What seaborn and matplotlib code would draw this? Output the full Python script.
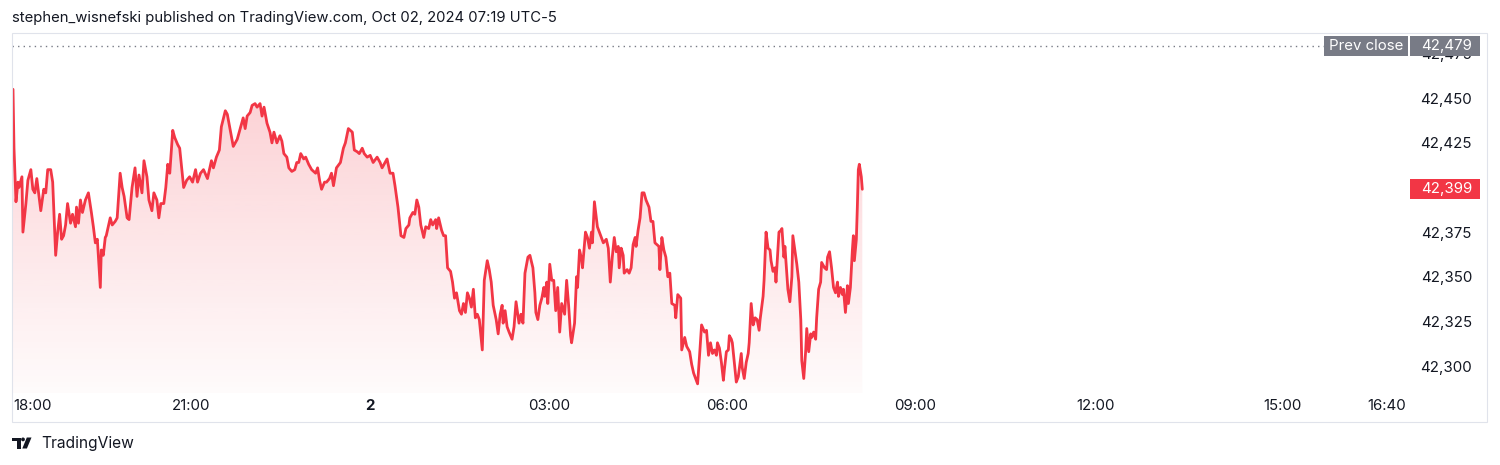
import numpy as np
import matplotlib
matplotlib.use("Agg")
import matplotlib.pyplot as plt
import matplotlib.transforms as mtransforms
from matplotlib.patches import Rectangle, Polygon, Circle
from matplotlib.colors import to_rgb
import seaborn as sns

# ---------------- data ----------------
# minutes after 18:00 (Oct 1) and DJIA futures price
minutes = [
    0, 1, 3, 5, 6, 9, 10, 13, 15, 18,
    20, 22, 24, 28, 31, 33, 35, 38, 40, 43,
    45, 47, 49, 51, 53, 55, 58, 60, 63, 64,
    66, 68, 70, 73, 76, 79, 81, 83, 85, 88,
    89, 91, 93, 94, 96, 98, 100, 103, 105, 108,
    110, 112, 115, 117, 120, 123, 125, 127, 130, 132,
    135, 137, 140, 142, 145, 147, 149, 152, 154, 156,
    158, 161, 163, 166, 168, 172, 175, 178, 181, 184,
    186, 189, 192, 196, 200, 202, 205, 208, 210, 214,
    216, 219, 222, 226, 229, 232, 234, 236, 239, 241,
    244, 246, 249, 251, 253, 256, 259, 261, 263, 266,
    269, 271, 273, 276, 278, 281, 284, 286, 288, 290,
    293, 295, 298, 301, 305, 307, 309, 311, 314, 316,
    319, 321, 323, 326, 330, 333, 335, 338, 342, 344,
    347, 349, 352, 354, 357, 360, 363, 367, 370, 372,
    375, 377, 380, 383, 385, 388, 391, 394, 396, 399,
    400, 403, 405, 407, 409, 411, 414, 416, 419, 421,
    423, 426, 427, 429, 432, 434, 436, 438, 441, 443,
    445, 447, 450, 452, 454, 456, 458, 460, 462, 464,
    466, 468, 470, 473, 475, 478, 480, 482, 484, 487,
    489, 491, 493, 494, 496, 498, 500, 503, 505, 507,
    510, 512, 514, 516, 519, 521, 524, 526, 527, 529,
    531, 533, 535, 536, 538, 539, 541, 543, 545, 547,
    549, 551, 553, 556, 558, 560, 562, 563, 566, 568,
    569, 571, 573, 574, 577, 579, 581, 583, 584, 586,
    589, 591, 593, 595, 598, 600, 602, 604, 606, 608,
    610, 611, 613, 615, 616, 619, 621, 623, 625, 627,
    628, 630, 632, 634, 636, 638, 641, 643, 645, 647,
    649, 651, 652, 654, 656, 658, 660, 662, 664, 667,
    668, 670, 673, 674, 677, 679, 682, 684, 686, 688,
    690, 692, 694, 697, 699, 701, 703, 705, 707, 709,
    710, 712, 714, 716, 717, 719, 721, 722, 724, 725,
    727, 729, 731, 734, 735, 737, 739, 741, 742, 744,
    746, 748, 750, 752, 753, 756, 757, 759, 761, 763,
    764, 766, 768, 769, 771, 772, 774, 775, 777, 778,
    779, 781, 783, 785, 786, 788, 790, 792, 794, 795,
    797, 799, 800, 802, 804, 805, 807, 809, 810, 812,
    814, 815, 818, 820, 821, 823, 825, 827, 829, 831,
    832, 834, 836, 837, 839, 841, 842, 844, 846, 847,
    848, 850, 851, 852, 853, 855, 856,
]
prices = [
    42455, 42422, 42392, 42403, 42400, 42406, 42375, 42391, 42404, 42410,
    42399, 42397, 42405, 42387, 42399, 42397, 42410, 42410, 42403, 42362,
    42375, 42385, 42371, 42373, 42379, 42391, 42380, 42385, 42378, 42389,
    42380, 42393, 42386, 42393, 42397, 42386, 42378, 42369, 42371, 42344,
    42365, 42362, 42372, 42373, 42378, 42383, 42379, 42381, 42383, 42408,
    42400, 42395, 42383, 42382, 42400, 42411, 42395, 42407, 42397, 42415,
    42406, 42393, 42387, 42397, 42393, 42383, 42391, 42391, 42400, 42413,
    42408, 42432, 42428, 42424, 42422, 42400, 42404, 42406, 42403, 42410,
    42403, 42408, 42410, 42405, 42415, 42411, 42417, 42421, 42434, 42443,
    42441, 42432, 42423, 42427, 42433, 42439, 42433, 42440, 42442, 42446,
    42447, 42445, 42447, 42440, 42445, 42436, 42431, 42425, 42431, 42425,
    42429, 42426, 42419, 42417, 42411, 42409, 42410, 42414, 42414, 42419,
    42416, 42417, 42413, 42410, 42408, 42411, 42404, 42399, 42403, 42403,
    42405, 42408, 42401, 42411, 42414, 42422, 42425, 42433, 42431, 42421,
    42420, 42419, 42422, 42419, 42417, 42418, 42414, 42417, 42414, 42411,
    42414, 42416, 42408, 42408, 42401, 42389, 42373, 42372, 42377, 42379,
    42383, 42386, 42385, 42393, 42389, 42379, 42372, 42378, 42377, 42382,
    42379, 42382, 42377, 42383, 42376, 42373, 42373, 42355, 42353, 42347,
    42338, 42341, 42331, 42329, 42335, 42330, 42341, 42338, 42333, 42343,
    42327, 42329, 42326, 42309, 42348, 42359, 42354, 42347, 42334, 42326,
    42318, 42329, 42334, 42324, 42331, 42322, 42319, 42315, 42322, 42336,
    42324, 42329, 42324, 42352, 42361, 42362, 42355, 42341, 42330, 42326,
    42334, 42338, 42344, 42339, 42347, 42335, 42357, 42348, 42348, 42331,
    42344, 42319, 42335, 42329, 42348, 42334, 42317, 42313, 42324, 42350,
    42344, 42365, 42360, 42355, 42375, 42372, 42366, 42375, 42369, 42392,
    42378, 42375, 42372, 42369, 42371, 42366, 42347, 42361, 42372, 42364,
    42367, 42355, 42366, 42362, 42352, 42354, 42352, 42355, 42368, 42372,
    42367, 42376, 42383, 42397, 42397, 42393, 42389, 42381, 42381, 42369,
    42368, 42367, 42354, 42372, 42365, 42361, 42350, 42352, 42335, 42334,
    42327, 42340, 42338, 42309, 42316, 42311, 42308, 42301, 42296, 42293,
    42290, 42306, 42323, 42319, 42320, 42306, 42313, 42307, 42309, 42306,
    42313, 42310, 42302, 42292, 42298, 42308, 42309, 42317, 42315, 42313,
    42302, 42291, 42294, 42307, 42299, 42293, 42302, 42307, 42313, 42335,
    42323, 42327, 42326, 42320, 42326, 42339, 42348, 42375, 42366, 42365,
    42359, 42353, 42355, 42347, 42365, 42375, 42376, 42377, 42361, 42367,
    42359, 42343, 42336, 42350, 42373, 42365, 42357, 42347, 42326, 42303,
    42293, 42309, 42321, 42308, 42318, 42316, 42319, 42315, 42327, 42343,
    42347, 42358, 42355, 42354, 42361, 42364, 42355, 42344, 42341, 42347,
    42339, 42344, 42340, 42343, 42330, 42345, 42335, 42344, 42365, 42373,
    42359, 42371, 42389, 42410, 42413, 42406, 42399,
]
assert len(minutes) == len(prices)

prev_close = 42479
prev_close_label = "Prev close"
y_ticks = [42300, 42325, 42350, 42375, 42400, 42425, 42450, 42475]
x_ticks = [0, 180, 360, 540, 720, 900, 1080, 1260, 1360]
x_labels = ["18:00", "21:00", "2", "03:00", "06:00", "09:00", "12:00", "15:00", "16:40"]
title = "stephen_wisnefski published on TradingView.com, Oct 02, 2024 07:19 UTC-5"
brand = "TradingView"

# ---------------- style ----------------
RED = "#f23645"
TXT = "#131722"
GREY = "#787b86"
FRAME = "#e0e3eb"

sns.set_theme(style="white")
plt.rcParams["font.family"] = ["Inter", "DejaVu Sans"]

W, H = 1500, 465
fig = plt.figure(figsize=(W / 100, H / 100), dpi=100)
fig.patch.set_facecolor("white")

PANE_L, PANE_R, PANE_T, PANE_B = 12, 1405, 33, 393
ax = fig.add_axes([PANE_L / W, 1 - PANE_B / H, (PANE_R - PANE_L) / W, (PANE_B - PANE_T) / H])
ax.set_facecolor("white")

# line
sns.lineplot(x=minutes, y=prices, ax=ax, color=RED, linewidth=2.0,
             estimator=None, sort=False, zorder=4)
for ln in ax.get_lines():
    ln.set_solid_joinstyle("round")

# time axis: TradingView spaces bars by index, future area slightly wider
anchor_m = np.array([-1000.0, 0, 856, 900, 1080, 1260, 1360, 3000])
anchor_p = np.array([13 - 1000 * 0.99217, 13, 862.3, 915, 1096, 1282, 1387, 1387 + 1640 * 1.05])
fwd = lambda m: np.interp(m, anchor_m, anchor_p)
inv = lambda p: np.interp(p, anchor_p, anchor_m)
ax.set_xscale("function", functions=(fwd, inv))

# price range of the pane (from pixel rows 33..393)
y_hi = 42300 + (366 - PANE_T) * 0.5602
y_lo = 42300 - (PANE_B - 366) * 0.5602

# gradient area under the line
poly = ax.fill_between(minutes, prices, y_lo, facecolor="none", edgecolor="none")
grad = np.zeros((256, 1, 4))
grad[..., :3] = to_rgb(RED)
grad[:, 0, 3] = np.linspace(0.02, 0.23, 256)
frac = (max(prices) - y_lo) / (y_hi - y_lo)
im = ax.imshow(grad, extent=(0, 1, 0, frac), transform=ax.transAxes, origin="lower",
               aspect="auto", interpolation="bilinear", zorder=2)
im.set_clip_path(poly.get_paths()[0], ax.transData)

# prev close dotted line
pc_end = (1324 - PANE_L) / (PANE_R - PANE_L)
ax.axhline(prev_close, xmin=0, xmax=pc_end, color=GREY, lw=1.0,
           linestyle=(0, (1, 3)), zorder=3)

ax.set_xlim(inv(PANE_L), inv(PANE_R))
ax.set_ylim(y_lo, y_hi)

# y axis on the right
ax.yaxis.tick_right()
ax.set_yticks(y_ticks)
ax.set_yticklabels([f"{v:,}" for v in y_ticks], ha="right")
ax.tick_params(axis="y", length=0, pad=(1472 - PANE_R) * 0.72, labelsize=10.8,
               labelcolor=TXT, left=False, labelleft=False, right=True, labelright=True)

# x axis
ax.set_xticks(x_ticks)
ax.set_xticklabels(x_labels)
ax.tick_params(axis="x", length=0, pad=4.5, labelsize=10.8, labelcolor=TXT)
xl = ax.get_xticklabels()
xl[0].set_ha("left")
xl[2].set_fontweight("bold")
ax.minorticks_off()
for s in ax.spines.values():
    s.set_visible(False)
ax.grid(False)
ax.set_xlabel("")
ax.set_ylabel("")

# price labels (boxes beside the pane)
bt = mtransforms.blended_transform_factory(ax.transAxes, ax.transData)
span = PANE_R - PANE_L
box_h = 20 / 1.785


def axfrac(px):
    return (px - PANE_L) / span


def price_box(x0, x1, yv, color):
    ax.add_patch(Rectangle((axfrac(x0), yv - box_h / 2), axfrac(x1) - axfrac(x0), box_h,
                           transform=bt, facecolor=color, edgecolor="none",
                           clip_on=False, zorder=6))


price_box(1324, 1408, prev_close, GREY)
price_box(1410, 1480, prev_close, GREY)
ax.text(axfrac(1366), prev_close, prev_close_label, transform=bt, ha="center", va="center",
        color="white", fontsize=10.8, zorder=7, clip_on=False)
ax.text(axfrac(1472), prev_close, f"{prev_close:,}", transform=bt, ha="right", va="center",
        color="white", fontsize=10.8, zorder=7, clip_on=False)

last = prices[-1]
price_box(1410, 1480, last, RED)
ax.text(axfrac(1472), last, f"{last:,}", transform=bt, ha="right", va="center",
        color="white", fontsize=10.8, zorder=7, clip_on=False)

# outer frame
fig.add_artist(Rectangle((12 / W, 1 - 422 / H), (1487 - 12) / W, (422 - 33) / H,
                         transform=fig.transFigure, fill=False, edgecolor=FRAME, lw=0.8))

# header and footer text
fig.text(12 / W, 1 - 18 / H, title, ha="left", va="center", fontsize=10.7, color=TXT)
fig.text(41 / W, 1 - 443.5 / H, brand, ha="left", va="center", fontsize=11.2, color=TXT)

# logo (pixel coordinates, y from top)
pxt = mtransforms.Affine2D().scale(1 / W, -1 / H).translate(0, 1) + fig.transFigure
fig.add_artist(Polygon([(12.3, 437.5), (20.8, 437.5), (20.8, 448.5), (16.8, 448.5),
                        (16.8, 441.3), (12.3, 441.3)], closed=True, transform=pxt,
                       facecolor=TXT, edgecolor="none"))
fig.add_artist(Circle((23.0, 439.4), 1.9, transform=pxt, facecolor=TXT, edgecolor="none"))
fig.add_artist(Polygon([(26.8, 437.5), (31.5, 437.5), (26.9, 448.5), (22.3, 448.5)],
                       closed=True, transform=pxt, facecolor=TXT, edgecolor="none"))

fig.savefig("out.png", dpi=100, facecolor="white")
